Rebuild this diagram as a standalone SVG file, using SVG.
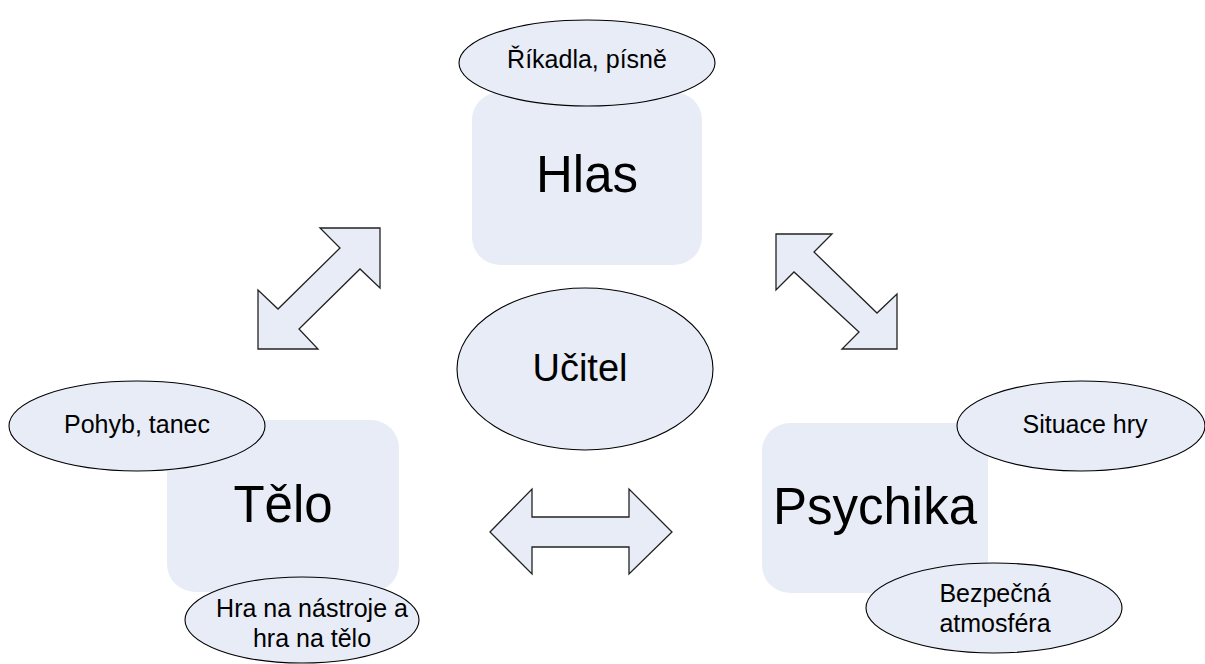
<svg xmlns="http://www.w3.org/2000/svg" width="1205" height="664" viewBox="0 0 1205 664">
<style>
.box{fill:#E7ECF6;stroke:none}
.ell{fill:#E7ECF6;stroke:#000;stroke-width:1.1}
.arr{fill:#E7ECF6;stroke:#222;stroke-width:1.3;stroke-linejoin:miter}
text{font-family:"Liberation Sans",Arial,sans-serif;fill:#000;text-anchor:middle}
.big{font-size:51px}
.mid{font-size:38px}
.sm{font-size:25px}
</style>
<rect width="1205" height="664" fill="#fff"/>
<g id="connectors">
<polygon class="arr" points="380,228 380,288 360,269 299,329 318,349 258,349 258,290 278,309 340,248 320,228"/>
<polygon class="arr" points="776,234 832,234 814,252 877,313 897,294 897,349 842,349 859,332 794,272 776,290"/>
<polygon class="arr" points="490,532 532,489 532,517 629,517 629,489 672,532 629,574 629,547 532,547 532,574"/>
</g>
<g id="hlas">
<rect class="box" x="472" y="92" width="230" height="173" rx="28"/>
<text class="big" x="587" y="192">Hlas</text>
</g>
<g id="rikadla">
<ellipse class="ell" cx="587" cy="63" rx="128" ry="43"/>
<text class="sm" x="587" y="68">Říkadla, písně</text>
</g>
<g id="ucitel">
<ellipse class="ell" cx="585" cy="369" rx="128" ry="81"/>
<text class="mid" x="580" y="381">Učitel</text>
</g>
<g id="telo">
<rect class="box" x="167" y="420" width="232" height="172" rx="28"/>
<text class="big" x="283" y="522">Tělo</text>
</g>
<g id="pohyb">
<ellipse class="ell" cx="137" cy="426" rx="128" ry="45"/>
<text class="sm" x="137" y="433">Pohyb, tanec</text>
</g>
<g id="hra">
<ellipse class="ell" cx="302" cy="620" rx="117" ry="43"/>
<text class="sm" x="312" y="617">Hra na nástroje a</text>
<text class="sm" x="312" y="647">hra na tělo</text>
</g>
<g id="psychika">
<rect class="box" x="762" y="423" width="226" height="170" rx="28"/>
<text class="big" x="875" y="524">Psychika</text>
</g>
<g id="situace">
<ellipse class="ell" cx="1081" cy="426" rx="124" ry="45"/>
<text class="sm" x="1085" y="433">Situace hry</text>
</g>
<g id="bezpecna">
<ellipse class="ell" cx="994" cy="608" rx="128" ry="45"/>
<text class="sm" x="995" y="602">Bezpečná</text>
<text class="sm" x="995" y="632">atmosféra</text>
</g>
</svg>
